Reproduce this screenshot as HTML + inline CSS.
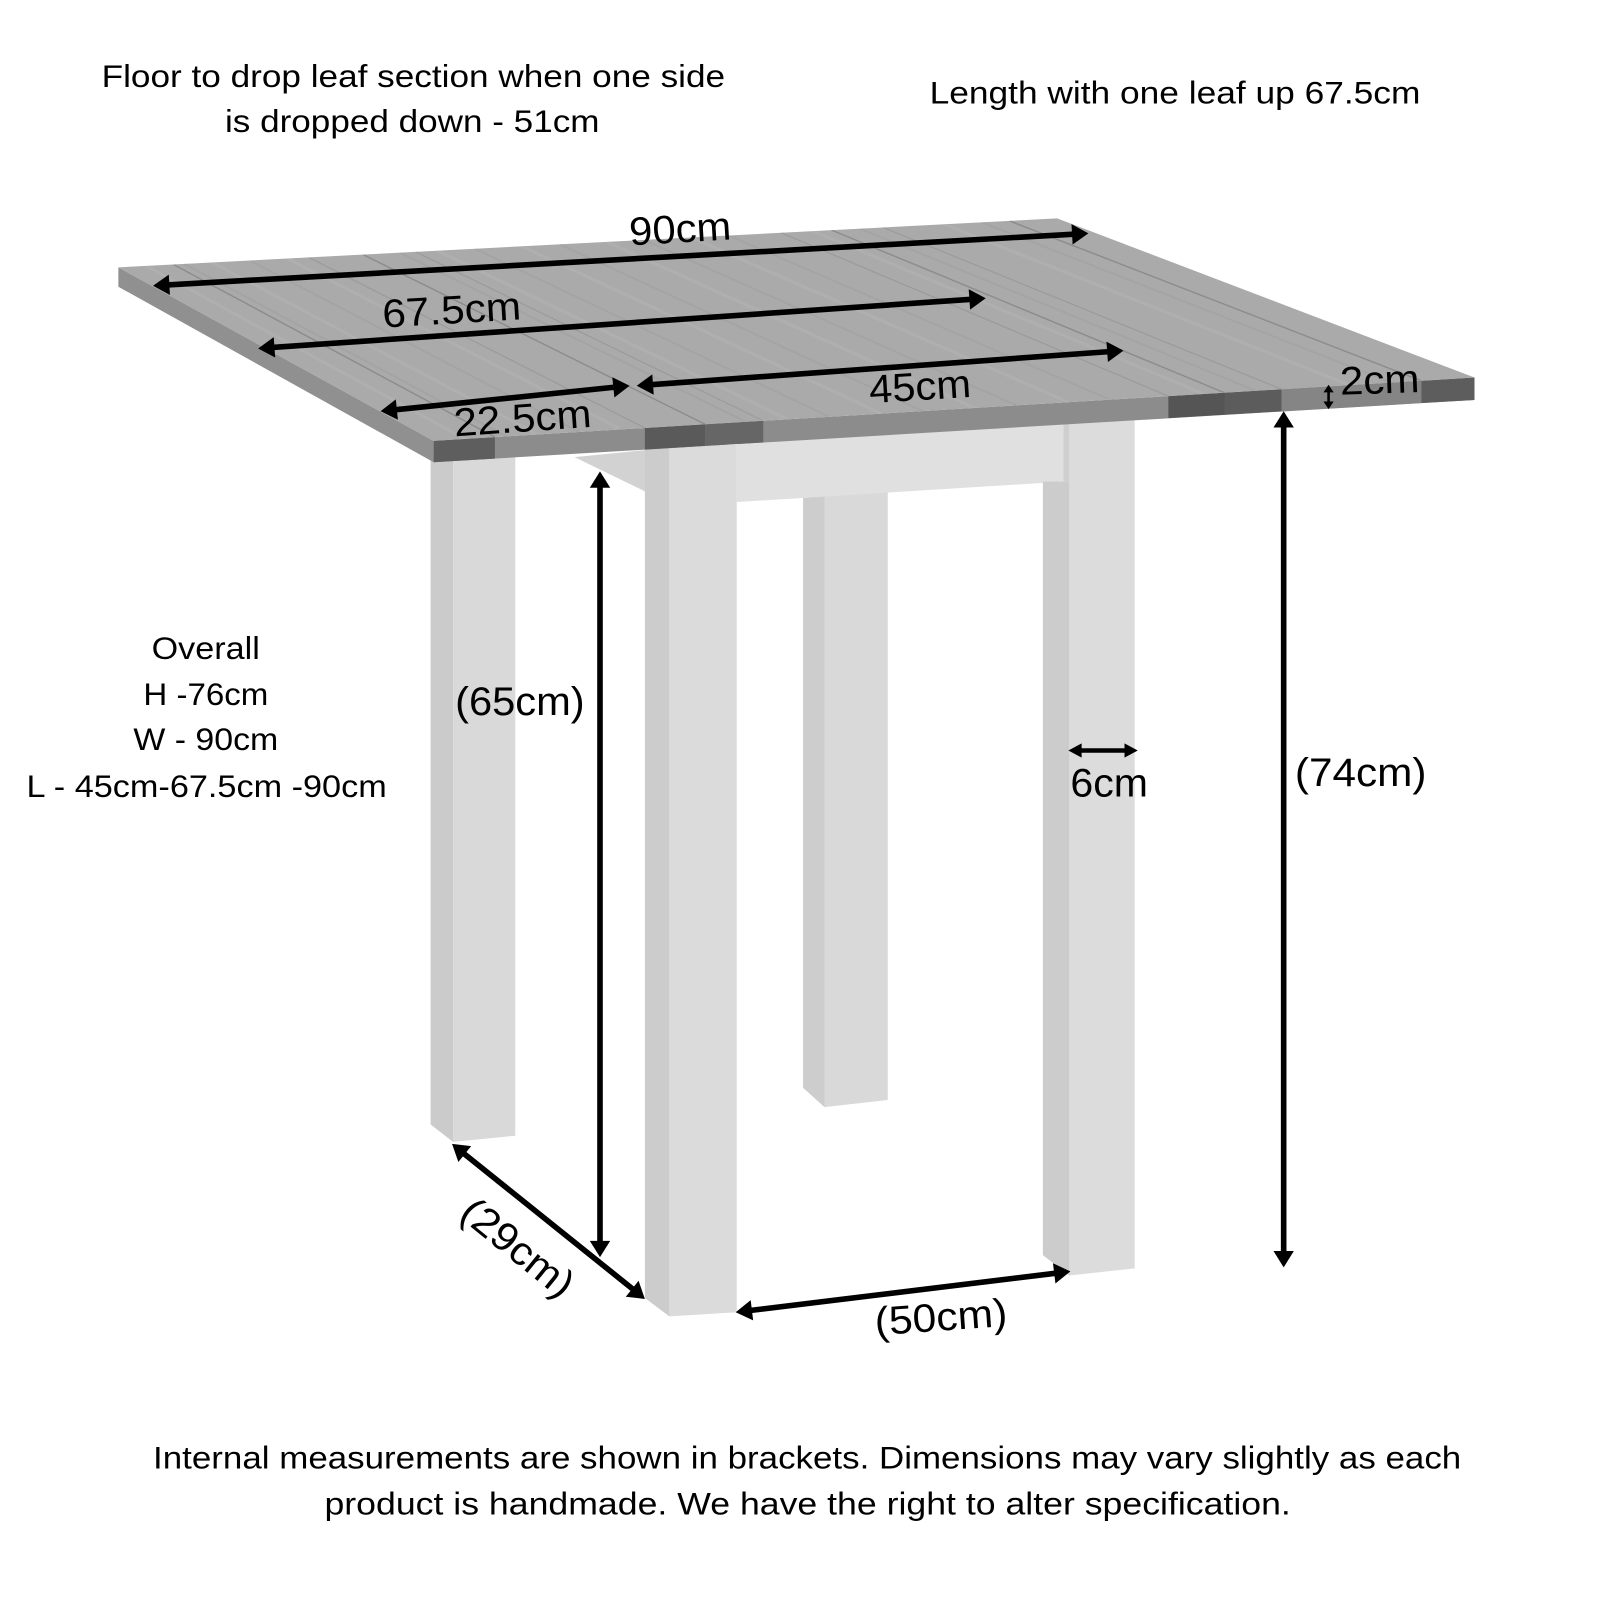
<!DOCTYPE html>
<html>
<head>
<meta charset="utf-8">
<style>
html,body{margin:0;padding:0;background:#fff;}
svg{display:block;}
text{font-family:"Liberation Sans","DejaVu Sans",sans-serif;fill:#000;}
</style>
</head>
<body>
<svg width="1600" height="1600" viewBox="0 0 1568 1568" xmlns="http://www.w3.org/2000/svg">
<rect x="0" y="0" width="1568" height="1568" fill="#fff"/>

<defs>
  <clipPath id="topclip"><polygon points="116,262 1036,214 1445,370 425,432"/></clipPath>
</defs>

<!-- side apron triangle -->
<polygon points="563,448 633,441 633,482" fill="#d2d2d2"/>

<!-- back centre leg C -->
<polygon points="787,488 808,486 808,1085 787,1066" fill="#cdcdcd"/>
<polygon points="808,486 870,482 870,1078 808,1085" fill="#d9d9d9"/>

<!-- front apron -->
<polygon points="722,430 1042,410 1042,472 722,492" fill="#e0e0e0"/>
<polygon points="1042,410 1048,410 1048,472 1042,472" fill="#cfcfcf"/>

<!-- leg A -->
<polygon points="422,446 444,446 444,1119 422,1102" fill="#cbcbcb"/>
<polygon points="444,446 505,446 505,1113 444,1119" fill="#d9d9d9"/>

<!-- leg B -->
<polygon points="632,438 656,438 656,1290 632,1272" fill="#cccccc"/>
<polygon points="656,436 722,436 722,1286 656,1290" fill="#dbdbdb"/>

<!-- leg D -->
<polygon points="1022,472 1048,472 1048,1250 1022,1230" fill="#cccccc"/>
<polygon points="1048,408 1112,408 1112,1243 1048,1250" fill="#dcdcdc"/>

<!-- table top: left face -->
<polygon points="116,262 425,432 425,453 116,281" fill="#909090"/>
<!-- front face -->
<polygon points="425,432 1445,370 1445,392 425,453" fill="#8c8c8c"/>
<!-- end-grain blocks -->
<polygon points="425,432 485,428.4 485,449.4 425,453" fill="#5e5e5e"/>
<polygon points="632,419.4 691,415.8 691,437 632,440.6" fill="#5a5a5a"/>
<polygon points="691,415.8 748,412.4 748,433.6 691,437" fill="#666"/>
<polygon points="1145,388.2 1200,384.9 1200,406.4 1145,409.8" fill="#555"/>
<polygon points="1200,384.9 1256,381.5 1256,403.1 1200,406.4" fill="#5c5c5c"/>
<polygon points="1256,381.5 1393,373.2 1393,394.9 1256,403.1" fill="#858585"/>
<polygon points="1393,373.2 1445,370 1445,392 1393,394.9" fill="#5d5d5d"/>

<!-- top surface -->
<polygon points="116,262 1036,214 1445,370 425,432" fill="#aaaaaa"/>
<g clip-path="url(#topclip)" stroke-linecap="butt">
  <g stroke="#b6b6b6" stroke-width="3" opacity="0.45">
    <line x1="455.6" y1="430.1" x2="143.6" y2="260.6"/>
    <line x1="527" y1="425.8" x2="208" y2="257.2"/>
    <line x1="608.6" y1="420.8" x2="281.6" y2="253.4"/>
    <line x1="771.8" y1="410.9" x2="428.8" y2="245.7"/>
    <line x1="863.6" y1="405.3" x2="511.6" y2="241.4"/>
    <line x1="955.4" y1="399.8" x2="594.4" y2="237"/>
    <line x1="1047.2" y1="394.2" x2="677.2" y2="232.7"/>
    <line x1="1179.8" y1="386.1" x2="796.8" y2="226.5"/>
    <line x1="1322.6" y1="377.4" x2="925.6" y2="219.8"/>
  </g>
  <g stroke="#9c9c9c" stroke-width="2" opacity="0.4">
    <line x1="496.4" y1="427.7" x2="180.4" y2="258.6"/>
    <line x1="567.8" y1="423.3" x2="244.8" y2="255.3"/>
    <line x1="731" y1="413.4" x2="392" y2="247.6"/>
    <line x1="812.6" y1="408.4" x2="465.6" y2="243.8"/>
    <line x1="904.4" y1="402.9" x2="548.4" y2="239.4"/>
    <line x1="996.2" y1="397.3" x2="631.2" y2="235.1"/>
    <line x1="1088" y1="391.7" x2="714" y2="230.8"/>
    <line x1="1230.8" y1="383" x2="842.8" y2="224.1"/>
    <line x1="1363.4" y1="374.9" x2="962.4" y2="217.8"/>
  </g>
  <g stroke="#858585" stroke-width="1.4" opacity="0.8">
    <line x1="485" y1="428.4" x2="170.1" y2="259.2"/>
    <line x1="691" y1="415.8" x2="355.9" y2="249.5"/>
    <line x1="1200" y1="384.9" x2="815" y2="225.5"/>
    <line x1="1393" y1="373.2" x2="989.1" y2="216.4"/>
  </g>
  <g stroke="#939393" stroke-width="1.1" opacity="0.7">
    <line x1="632" y1="419.4" x2="302.8" y2="252.3"/>
    <line x1="748" y1="412.4" x2="407.4" y2="246.8"/>
    <line x1="1145" y1="388.2" x2="765.4" y2="228.1"/>
    <line x1="1256" y1="381.5" x2="865.5" y2="222.9"/>
  </g>
</g>

<!-- ARROWS -->
<g stroke="#000" stroke-width="5.5" fill="none">
  <line x1="164" y1="279.2" x2="1052.6" y2="229.5"/>
  <line x1="267" y1="340.5" x2="952" y2="293.3"/>
  <line x1="387" y1="401.6" x2="603" y2="379.4"/>
  <line x1="638" y1="377" x2="1087" y2="344.6"/>
  <line x1="1258" y1="417" x2="1258" y2="1228"/>
  <line x1="588" y1="476" x2="588" y2="1218"/>
  <line x1="454" y1="1130" x2="621" y2="1264"/>
  <line x1="735" y1="1284.3" x2="1035" y2="1247.7"/>
</g>
<line x1="1058" y1="735.5" x2="1104" y2="735.5" stroke="#000" stroke-width="4.5"/>
<line x1="1302" y1="383" x2="1302" y2="395" stroke="#000" stroke-width="2.5"/>
<g fill="#000">
  <polygon points="1066.6,228.7 1051.18,239.57 1050.06,219.6"/>
  <polygon points="150,280 166.54,289.09 165.42,269.13"/>
  <polygon points="966,292.3 950.73,303.38 949.35,283.42"/>
  <polygon points="253,341.5 269.65,350.38 268.27,330.42"/>
  <polygon points="617,378 602.1,389.58 600.06,369.68"/>
  <polygon points="373,403 389.94,411.32 387.9,391.42"/>
  <polygon points="1101,343.6 1085.76,354.72 1084.32,334.78"/>
  <polygon points="624,378 640.68,386.82 639.24,366.88"/>
  <polygon points="1258,403 1248,419 1268,419"/>
  <polygon points="1258,1242 1248,1226 1268,1226"/>
  <polygon points="588,462 578,478 598,478"/>
  <polygon points="588,1232 578,1216 598,1216"/>
  <polygon points="632,1273 613.26,1270.76 625.8,1255.18"/>
  <polygon points="443,1121 449.2,1138.82 461.74,1123.24"/>
  <polygon points="1049,1246 1034.33,1257.87 1031.91,1238.01"/>
  <polygon points="721,1286 738.09,1293.99 735.67,1274.13"/>
  <polygon points="1047,735.5 1060,728.5 1060,742.5"/>
  <polygon points="1115,735.5 1102,728.5 1102,742.5"/>
  <polygon points="1302,377 1297,384.5 1307,384.5"/>
  <polygon points="1302,401 1297,393.5 1307,393.5"/>
</g>

<!-- DIMENSION LABELS -->
<g font-size="39">
  <text transform="translate(666.5,223.5) rotate(-3.4)" x="0" y="14" text-anchor="middle" textLength="100" lengthAdjust="spacingAndGlyphs">90cm</text>
  <text transform="translate(442.5,303) rotate(-3.4)" x="0" y="14" text-anchor="middle" textLength="136" lengthAdjust="spacingAndGlyphs">67.5cm</text>
  <text transform="translate(901.5,378) rotate(-3.5)" x="0" y="14" text-anchor="middle" textLength="100" lengthAdjust="spacingAndGlyphs">45cm</text>
  <text transform="translate(512,409) rotate(-4)" x="0" y="14" text-anchor="middle" textLength="135" lengthAdjust="spacingAndGlyphs">22.5cm</text>
  <text transform="translate(1352,371.5) rotate(-2)" x="0" y="14" text-anchor="middle" textLength="78" lengthAdjust="spacingAndGlyphs">2cm</text>
  <text x="509.5" y="700.5" text-anchor="middle" textLength="127" lengthAdjust="spacingAndGlyphs">(65cm)</text>
  <text x="1333.5" y="770.3" text-anchor="middle" textLength="129" lengthAdjust="spacingAndGlyphs">(74cm)</text>
  <text x="1087" y="780.7" text-anchor="middle" textLength="76" lengthAdjust="spacingAndGlyphs">6cm</text>
  <text transform="translate(508,1222) rotate(39)" x="0" y="14" text-anchor="middle" textLength="130" lengthAdjust="spacingAndGlyphs">(29cm)</text>
  <text transform="translate(922,1290) rotate(-4)" x="0" y="14" text-anchor="middle" textLength="130" lengthAdjust="spacingAndGlyphs">(50cm)</text>
</g>

<!-- BODY TEXT -->
<g font-size="31">
  <text x="99.6" y="85.3" textLength="611" lengthAdjust="spacingAndGlyphs">Floor to drop leaf section when one side</text>
  <text x="220.5" y="129.5" textLength="367" lengthAdjust="spacingAndGlyphs">is dropped down - 51cm</text>
  <text x="911" y="101.5" textLength="481" lengthAdjust="spacingAndGlyphs">Length with one leaf up 67.5cm</text>

  <text x="148.6" y="646" textLength="106" lengthAdjust="spacingAndGlyphs">Overall</text>
  <text x="140.5" y="691" textLength="122.5" lengthAdjust="spacingAndGlyphs">H -76cm</text>
  <text x="130.7" y="735" textLength="142" lengthAdjust="spacingAndGlyphs">W - 90cm</text>
  <text x="26" y="781" textLength="353" lengthAdjust="spacingAndGlyphs">L - 45cm-67.5cm -90cm</text>

  <text x="150" y="1439" textLength="1282" lengthAdjust="spacingAndGlyphs">Internal measurements are shown in brackets. Dimensions may vary slightly as each</text>
  <text x="318" y="1484" textLength="947" lengthAdjust="spacingAndGlyphs">product is handmade. We have the right to alter specification.</text>
</g>
</svg>
</body>
</html>
